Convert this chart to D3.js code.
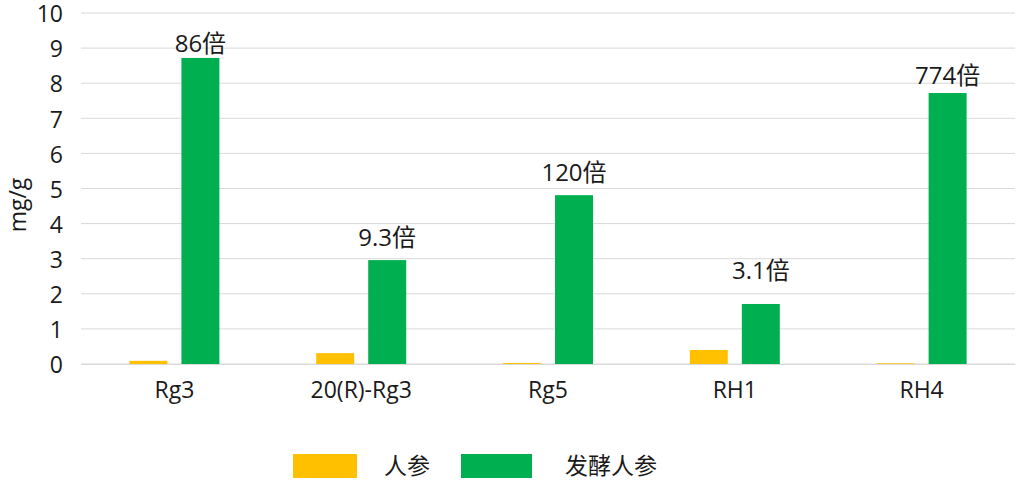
<!DOCTYPE html>
<html>
<head>
<meta charset="utf-8">
<script src="https://d3js.org/d3.v7.min.js"></script>
<style>
  body { margin: 0; background: #fff; }
  text { font-family: "Open Sans", "Noto Sans CJK SC", sans-serif; fill: #1a1a1a; }
</style>
</head>
<body>
<div id="chart"></div>
<script>
// data
var categories = ["Rg3", "20(R)-Rg3", "Rg5", "RH1", "RH4"];
var seriesNames = ["人参", "发酵人参"];
var ginseng = [0.09, 0.31, 0.03, 0.40, 0.02];
var fermented = [8.72, 2.96, 4.81, 1.71, 7.72];
var foldLabels = ["86倍", "9.3倍", "120倍", "3.1倍", "774倍"];
var labelLevels = [9.12, 3.59, 5.44, 2.65, 8.23];
var yTicks = [0, 1, 2, 3, 4, 5, 6, 7, 8, 9, 10];
var colors = ["#FFC000", "#00B050"];

var W = 1023, H = 489;
var margin = {top: 13, right: 8, bottom: 125, left: 81};
var width = W - margin.left - margin.right,
    height = H - margin.top - margin.bottom;

var svg = d3.select("#chart").append("svg")
    .attr("width", W).attr("height", H);
var g = svg.append("g")
    .attr("transform", "translate(" + margin.left + "," + margin.top + ")");

var x = d3.scaleBand().domain(categories).range([0, width]);
var y = d3.scaleLinear().domain([0, 10]).range([height, 0]);
var xSub = d3.scaleBand().domain(seriesNames).range([-45, 45]).paddingInner(0.27);

// gridlines
g.append("g").selectAll("line").data(yTicks).enter().append("line")
    .attr("x1", 0).attr("x2", width)
    .attr("y1", function(d) { return y(d); })
    .attr("y2", function(d) { return y(d); })
    .attr("stroke", "#d9d9d9").attr("stroke-width", 1);

// y axis
var yAxis = g.append("g")
    .call(d3.axisLeft(y).tickValues(yTicks).tickSize(0).tickPadding(18));
yAxis.select(".domain").remove();
yAxis.selectAll("text").style("font-size", "23px").attr("dy", "0.38em");

// x axis
var xAxis = g.append("g")
    .attr("transform", "translate(0," + height + ")")
    .call(d3.axisBottom(x).tickSize(0).tickPadding(18));
xAxis.select(".domain").attr("stroke", "#d9d9d9");
xAxis.selectAll("text").style("font-size", "23px");

// bars
var rows = categories.map(function(c, i) {
  return {cat: c, vals: [ginseng[i], fermented[i]]};
});
var groups = g.append("g").selectAll("g").data(rows).enter().append("g")
    .attr("transform", function(d) { return "translate(" + (x(d.cat) + x.bandwidth() / 2) + ",0)"; });
groups.selectAll("rect")
  .data(function(d) { return d.vals.map(function(v, j) { return {key: seriesNames[j], value: v, j: j}; }); })
  .enter().append("rect")
    .attr("x", function(d) { return xSub(d.key); })
    .attr("width", xSub.bandwidth())
    .attr("y", function(d) { return y(d.value); })
    .attr("height", function(d) { return height - y(d.value); })
    .attr("fill", function(d) { return colors[d.j]; });

// fold labels above green bars
g.append("g").selectAll("text").data(categories).enter().append("text")
    .attr("x", function(d) { return x(d) + x.bandwidth() / 2 + xSub(seriesNames[1]) + xSub.bandwidth() / 2; })
    .attr("y", function(d, i) { return y(labelLevels[i]); })
    .attr("dy", "0.35em")
    .attr("text-anchor", "middle")
    .style("font-size", "24px")
    .text(function(d, i) { return foldLabels[i]; });

// y title
svg.append("text")
    .attr("transform", "translate(18,205) rotate(-90)")
    .attr("text-anchor", "middle")
    .attr("dy", "0.35em")
    .style("font-size", "23px")
    .text("mg/g");

// legend
var legend = svg.append("g");
var legendX = [293, 461], textX = [384, 565];
seriesNames.forEach(function(name, i) {
  legend.append("rect").attr("x", legendX[i]).attr("y", 454)
    .attr("width", i === 0 ? 64 : 71).attr("height", 24)
    .attr("fill", colors[i]);
  legend.append("text").attr("x", textX[i]).attr("y", 466).attr("dy", "0.35em")
    .style("font-family", "'Noto Sans CJK SC', sans-serif")
    .style("font-size", "23px").text(name);
});
</script>
</body>
</html>
